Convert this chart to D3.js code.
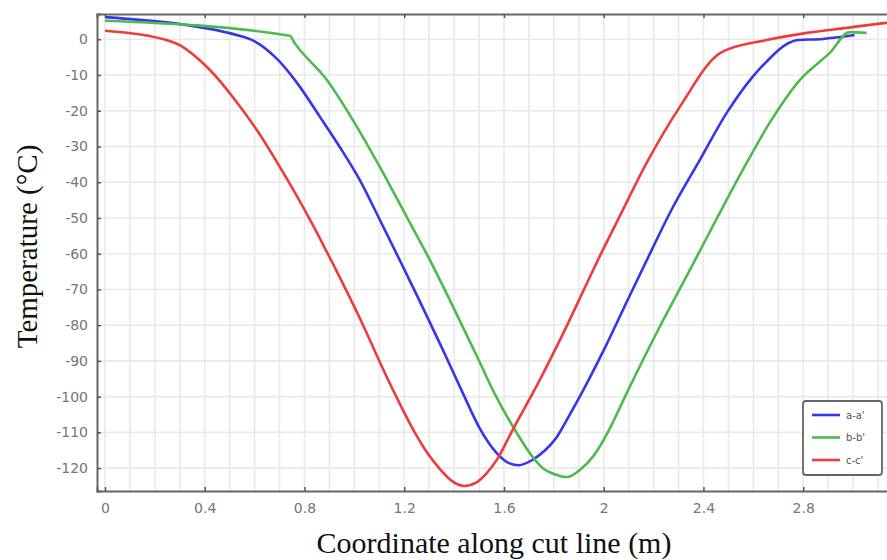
<!DOCTYPE html>
<html>
<head>
<meta charset="utf-8">
<script src="https://cdn.jsdelivr.net/npm/d3@7"></script>
<style>
  html, body { margin: 0; padding: 0; background: #fff; }
  svg { display: block; }
</style>
</head>
<body>
<svg id="chart" width="887" height="560"></svg>
<script>
// Temperature profiles along three cut lines
const seriesNames = ["a-a'", "b-b'", "c-c'"];
const seriesColors = ["#3535ee", "#4cbb4c", "#ef3b3b"];

const aX = [0, 0.561, 0.69, 0.77, 0.862, 0.942, 1.022, 1.102, 1.194, 1.25, 1.355, 1.435, 1.50, 1.571, 1.62, 1.66, 1.716, 1.765, 1.81, 1.86, 1.9, 2.0, 2.092, 2.192, 2.265, 2.385, 2.493, 2.597, 2.652, 2.73, 2.778, 2.878, 3.006];
const aY = [6.2, 0.6, -5.5, -12.2, -21.7, -30.2, -39.4, -50.5, -63.5, -71.5, -86.9, -99.0, -108.5, -115.8, -118.6, -119.2, -117.6, -115.0, -111.5, -105.5, -100.5, -87.0, -73.5, -59.0, -48.6, -33.8, -20.6, -10.5, -6.3, -1.5, -0.2, 0.1, 1.2];

const bX = [0, 0.741, 0.76, 0.89, 0.994, 1.102, 1.21, 1.303, 1.383, 1.49, 1.565, 1.65, 1.715, 1.756, 1.812, 1.852, 1.904, 1.96, 2.02, 2.092, 2.224, 2.345, 2.465, 2.573, 2.665, 2.786, 2.906, 2.986, 3.054];
const bY = [5.2, 1.0, -1.0, -11.4, -22.6, -35.7, -49.7, -61.8, -73.0, -88.5, -99.5, -110.0, -116.9, -120.0, -121.9, -122.5, -120.5, -116.5, -109.5, -99.0, -80.5, -64.6, -48.6, -34.6, -23.4, -11.4, -3.8, 2.0, 1.8];

const cX = [0, 0.273, 0.421, 0.513, 0.609, 0.701, 0.794, 0.875, 0.962, 1.035, 1.10, 1.168, 1.242, 1.295, 1.34, 1.395, 1.44, 1.49, 1.53, 1.571, 1.635, 1.743, 1.824, 1.996, 2.064, 2.172, 2.305, 2.47, 2.653, 2.814, 2.974, 3.134, 3.2];
const cY = [2.4, -0.8, -8.6, -16.2, -25.4, -35.7, -46.9, -57.5, -69.5, -80.0, -90.0, -100.0, -110.0, -116.0, -120.0, -123.8, -125.0, -124.0, -121.5, -117.7, -109.3, -95.4, -84.2, -59.0, -49.5, -34.6, -18.9, -3.7, -0.2, 1.8, 3.2, 4.6, 5.0];

const xTicks = [0, 0.4, 0.8, 1.2, 1.6, 2, 2.4, 2.8];
const yTicks = [0, -10, -20, -30, -40, -50, -60, -70, -80, -90, -100, -110, -120];

const xTitle = "Coordinate along cut line (m)";
const yTitle = "Temperature (°C)";

const series = [
  { name: seriesNames[0], color: seriesColors[0], pts: aX.map((v, i) => [v, aY[i]]) },
  { name: seriesNames[1], color: seriesColors[1], pts: bX.map((v, i) => [v, bY[i]]) },
  { name: seriesNames[2], color: seriesColors[2], pts: cX.map((v, i) => [v, cY[i]]) }
];

const svg = d3.select("#chart");
const plot = { left: 97, right: 903, top: 14, bottom: 491 };

const x = d3.scaleLinear().domain([-0.032, 3.2]).range([plot.left, plot.right]);
const y = d3.scaleLinear().domain([-126.4, 7.08]).range([plot.bottom, plot.top]);

svg.append("defs").append("clipPath").attr("id", "plotClip")
  .append("rect").attr("x", plot.left).attr("y", plot.top)
  .attr("width", plot.right - plot.left).attr("height", plot.bottom - plot.top);

// grid: every 0.1 m vertically, every 10 °C horizontally
const grid = svg.append("g");
grid.selectAll("line.v").data(d3.range(0, 32).map(i => i / 10)).join("line")
  .attr("class", "v")
  .attr("x1", d => x(d)).attr("x2", d => x(d))
  .attr("y1", plot.top).attr("y2", plot.bottom)
  .attr("stroke", "#e9e9e9").attr("stroke-width", 1.6);
grid.selectAll("line.h").data(yTicks).join("line")
  .attr("class", "h")
  .attr("x1", plot.left).attr("x2", plot.right)
  .attr("y1", d => y(d)).attr("y2", d => y(d))
  .attr("stroke", "#e9e9e9").attr("stroke-width", 1.6);

// curves
const line = d3.line().x(d => x(d[0])).y(d => y(d[1])).curve(d3.curveMonotoneX);
svg.append("g").attr("clip-path", "url(#plotClip)")
  .selectAll("path").data(series).join("path")
  .attr("d", d => line(d.pts))
  .attr("fill", "none")
  .attr("stroke", d => d.color)
  .attr("stroke-width", 2.6)
  .attr("stroke-linejoin", "round");

// axes
const tickFont = "'DejaVu Sans', sans-serif";
const xAxis = svg.append("g").attr("transform", `translate(0,${plot.bottom})`)
  .call(d3.axisBottom(x).tickValues(xTicks).tickSize(-4).tickPadding(12).tickFormat(d => String(d)));
const xAxisTop = svg.append("g").attr("transform", `translate(0,${plot.top})`)
  .call(d3.axisTop(x).tickValues(xTicks).tickSize(-4).tickFormat(""));
const yAxis = svg.append("g").attr("transform", `translate(${plot.left},0)`)
  .call(d3.axisLeft(y).tickValues(yTicks).tickSize(-4).tickPadding(9).tickFormat(d => String(d)));

[xAxis, xAxisTop, yAxis].forEach(g => {
  g.select(".domain").attr("stroke", "#666").attr("stroke-width", 2);
  g.selectAll(".tick line").attr("stroke", "#555").attr("stroke-width", 1.5);
  g.selectAll(".tick text").attr("fill", "#757575").style("font-family", tickFont).style("font-size", "14px");
});

// axis titles
svg.append("text")
  .attr("x", 494).attr("y", 553)
  .attr("text-anchor", "middle")
  .style("font-family", "'Liberation Serif', 'Times New Roman', serif")
  .style("font-size", "30px")
  .attr("fill", "#111")
  .text(xTitle);

svg.append("text")
  .attr("transform", "translate(37,246.5) rotate(-90)")
  .attr("text-anchor", "middle")
  .style("font-family", "'Liberation Serif', 'Times New Roman', serif")
  .style("font-size", "29px")
  .attr("fill", "#111")
  .text(yTitle);

// legend
const legend = svg.append("g");
legend.append("rect")
  .attr("x", 803).attr("y", 401).attr("width", 79).attr("height", 74).attr("rx", 3)
  .attr("fill", "#fff").attr("stroke", "#666").attr("stroke-width", 1.8);
const items = legend.selectAll("g.item").data(series).join("g")
  .attr("class", "item")
  .attr("transform", (d, i) => `translate(0,${415 + i * 22.5})`);
items.append("line")
  .attr("x1", 812).attr("x2", 840)
  .attr("stroke", d => d.color).attr("stroke-width", 2.6);
items.append("text")
  .attr("x", 846).attr("dy", "0.35em")
  .style("font-family", tickFont).style("font-size", "10px")
  .attr("fill", "#555")
  .text(d => d.name);
</script>
</body>
</html>
